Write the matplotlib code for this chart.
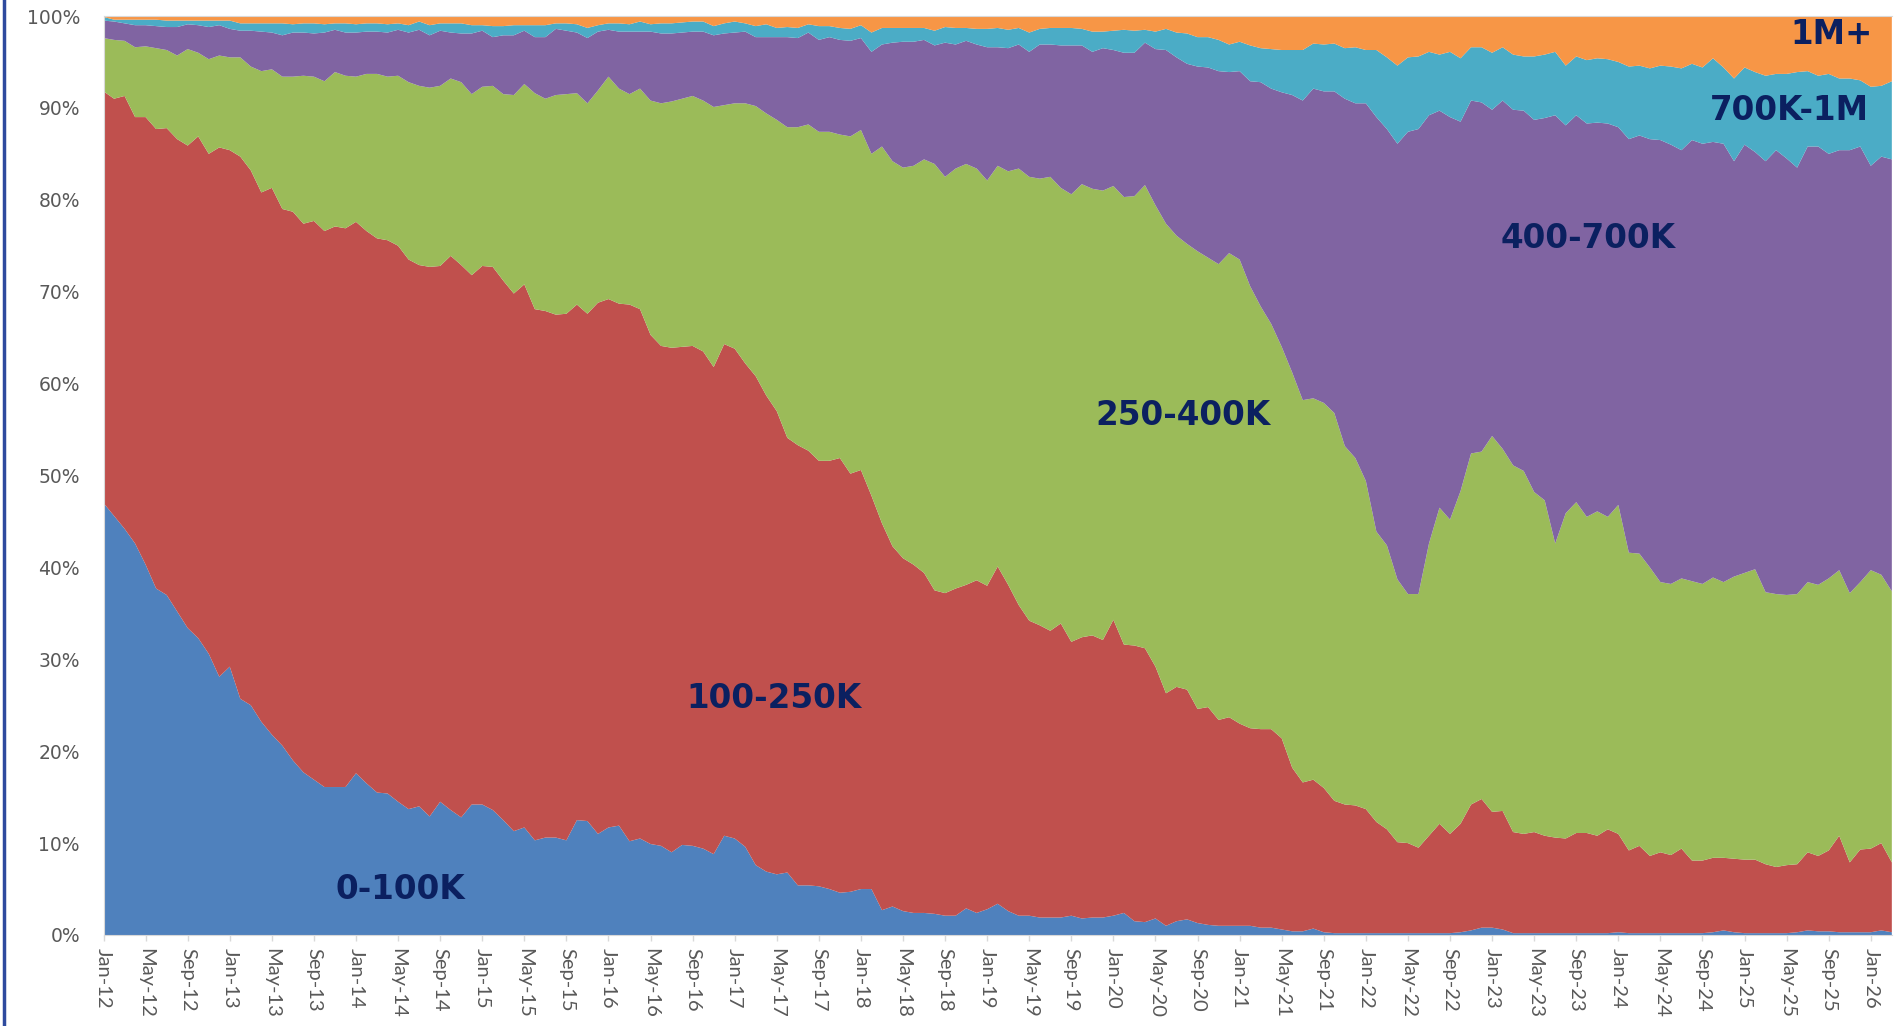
import numpy as np
import pandas as pd
import matplotlib
matplotlib.use("Agg")
import matplotlib.pyplot as plt
from matplotlib.lines import Line2D

# monthly categories, Jan-12 .. Mar-26
months = pd.date_range("2012-01-01", "2026-03-01", freq="MS")

# cumulative top of each band (% of total)
top_0_100k = [
    47.0, 45.6, 44.2, 42.6, 40.3, 37.7, 37.0, 35.2, 33.4, 32.3, 30.6, 28.1, 29.2, 25.7, 25.0, 23.2,
    21.8, 20.6, 19.0, 17.7, 16.9, 16.1, 16.1, 16.1, 17.6, 16.5, 15.5, 15.4, 14.5,
    13.7, 14.0, 12.9, 14.5, 13.6, 12.8, 14.2, 14.2, 13.6, 12.5, 11.3, 11.7, 10.3, 10.6, 10.6, 10.3,
    12.5, 12.4, 11.0, 11.7, 11.9, 10.2, 10.5, 9.9, 9.7, 9.0, 9.8, 9.7,
    9.4, 8.8, 10.8, 10.5, 9.6, 7.6, 6.9, 6.6, 6.8, 5.4, 5.4, 5.3, 5.0, 4.6, 4.7, 5.0,
    5.0, 2.7, 3.1, 2.6, 2.4, 2.4, 2.3, 2.1, 2.1, 2.9, 2.4, 2.8,
    3.4, 2.6, 2.1, 2.1, 1.9, 1.9, 1.9, 2.1, 1.8, 1.9, 1.9, 2.1, 2.4, 1.5, 1.4, 1.8,
    1.0, 1.5, 1.7, 1.3, 1.1, 1.0, 1.0, 1.0, 1.0, 0.8, 0.8, 0.6,
    0.4, 0.4, 0.7, 0.3, 0.2, 0.2, 0.2, 0.2, 0.2, 0.2, 0.2, 0.2, 0.2, 0.2, 0.2, 0.2,
    0.3, 0.5, 0.8, 0.8, 0.6, 0.2, 0.2, 0.2, 0.2, 0.2, 0.2, 0.2,
    0.2, 0.2, 0.2, 0.3, 0.2, 0.2, 0.2, 0.2, 0.2, 0.2, 0.2, 0.2, 0.3, 0.5, 0.3, 0.2,
    0.2, 0.2, 0.2, 0.2, 0.3, 0.5, 0.4, 0.4, 0.3, 0.3, 0.3, 0.3, 0.5, 0.3,
]
top_100_250k = [
    91.8, 91.0, 91.3, 89.0, 89.0, 87.7, 87.8, 86.6, 85.9, 86.9, 85.0, 85.7, 85.4, 84.7, 83.2, 80.8,
    81.3, 79.0, 78.7, 77.4, 77.7, 76.6, 77.1, 76.9, 77.6, 76.6, 75.8, 75.6, 75.0,
    73.5, 72.9, 72.7, 72.8, 73.9, 72.9, 71.8, 72.8, 72.7, 71.2, 69.8, 70.8, 68.1, 67.9, 67.5, 67.6,
    68.6, 67.6, 68.8, 69.2, 68.7, 68.6, 68.1, 65.3, 64.1, 63.9, 64.0, 64.1,
    63.5, 61.8, 64.3, 63.8, 62.2, 60.8, 58.7, 57.0, 54.1, 53.3, 52.7, 51.6, 51.6, 51.9, 50.2, 50.6,
    47.8, 44.8, 42.3, 41.0, 40.3, 39.4, 37.5, 37.2, 37.7, 38.1, 38.6, 38.0,
    40.1, 38.1, 35.9, 34.2, 33.7, 33.1, 33.9, 31.9, 32.4, 32.6, 32.1, 34.3, 31.6, 31.5, 31.2, 29.2,
    26.3, 27.0, 26.7, 24.6, 24.8, 23.4, 23.7, 23.0, 22.5, 22.4, 22.4, 21.4,
    18.2, 16.6, 16.9, 16.0, 14.6, 14.2, 14.1, 13.7, 12.3, 11.5, 10.1, 10.0, 9.5, 10.8, 12.1, 11.0,
    12.1, 14.2, 14.8, 13.4, 13.5, 11.2, 11.0, 11.2, 10.8, 10.6, 10.5, 11.1,
    11.1, 10.8, 11.5, 11.0, 9.2, 9.7, 8.6, 9.0, 8.7, 9.4, 8.1, 8.1, 8.4, 8.4, 8.3, 8.2,
    8.2, 7.7, 7.4, 7.6, 7.7, 9.0, 8.6, 9.2, 10.8, 7.9, 9.3, 9.4, 10.0, 7.9,
]
top_250_400k = [
    97.6, 97.4, 97.3, 96.6, 96.7, 96.5, 96.3, 95.7, 96.4, 96.0, 95.3, 95.7, 95.5, 95.5, 94.5, 94.0,
    94.2, 93.4, 93.4, 93.5, 93.4, 92.9, 93.9, 93.5, 93.4, 93.7, 93.7, 93.4, 93.5,
    92.8, 92.4, 92.2, 92.4, 93.2, 92.8, 91.5, 92.3, 92.4, 91.5, 91.4, 92.6, 91.6, 91.0, 91.4, 91.5,
    91.6, 90.5, 91.9, 93.4, 92.1, 91.5, 92.1, 90.8, 90.5, 90.7, 91.0, 91.3,
    90.8, 90.1, 90.3, 90.5, 90.5, 90.2, 89.4, 88.7, 87.9, 87.9, 88.2, 87.4, 87.4, 87.1, 86.9, 87.6,
    85.0, 85.8, 84.2, 83.5, 83.7, 84.4, 83.9, 82.5, 83.4, 83.9, 83.4, 82.1,
    83.7, 83.1, 83.4, 82.5, 82.3, 82.5, 81.3, 80.6, 81.7, 81.2, 81.0, 81.5, 80.3, 80.4, 81.6, 79.4,
    77.4, 76.1, 75.2, 74.4, 73.7, 73.0, 74.2, 73.5, 70.6, 68.4, 66.5, 64.0,
    61.2, 58.2, 58.4, 57.9, 56.8, 53.2, 51.9, 49.4, 43.9, 42.4, 38.7, 37.1, 37.1, 42.6, 46.5, 45.2,
    48.3, 52.4, 52.6, 54.3, 52.9, 51.1, 50.5, 48.2, 47.3, 42.6, 45.9, 47.1,
    45.5, 46.1, 45.5, 46.8, 41.6, 41.5, 40.0, 38.4, 38.2, 38.8, 38.5, 38.2, 38.9, 38.4, 39.0, 39.4,
    39.8, 37.3, 37.1, 37.0, 37.1, 38.4, 38.1, 38.8, 39.7, 37.2, 38.4, 39.7, 39.2, 37.4,
]
top_400_700k = [
    99.5, 99.4, 99.2, 99.0, 99.0, 98.9, 98.8, 98.8, 99.1, 99.0, 98.8, 99.0, 98.6, 98.4, 98.4, 98.3,
    98.2, 97.9, 98.2, 98.2, 98.1, 98.2, 98.5, 98.2, 98.2, 98.3, 98.3, 98.2, 98.5,
    98.2, 98.5, 97.9, 98.4, 98.2, 98.1, 98.1, 98.4, 97.7, 97.9, 97.9, 98.4, 97.7, 97.7, 98.6, 98.4,
    98.2, 97.6, 98.3, 98.5, 98.3, 98.3, 98.3, 98.3, 98.1, 98.1, 98.2, 98.3,
    98.3, 97.9, 98.1, 98.2, 98.3, 97.7, 97.7, 97.7, 97.7, 97.6, 98.2, 97.4, 97.7, 97.4, 97.3, 97.6,
    96.1, 96.9, 97.1, 97.2, 97.2, 97.4, 96.8, 97.1, 96.9, 97.3, 96.9, 96.6,
    96.6, 96.5, 96.9, 96.1, 96.9, 96.9, 96.8, 96.8, 96.8, 96.1, 96.5, 96.3, 96.0, 96.0, 97.1, 96.4,
    96.3, 95.5, 94.8, 94.5, 94.4, 94.0, 93.9, 94.0, 92.9, 92.8, 92.1, 91.7,
    91.4, 90.8, 92.1, 91.8, 91.8, 91.0, 90.5, 90.5, 89.0, 87.7, 86.1, 87.4, 87.7, 89.2, 89.7, 89.0,
    88.5, 90.8, 90.6, 89.8, 90.8, 89.8, 89.7, 88.7, 88.9, 89.2, 88.1, 89.2,
    88.3, 88.4, 88.3, 87.9, 86.6, 87.0, 86.6, 86.5, 86.0, 85.4, 86.5, 86.1, 86.3, 86.1, 84.2, 86.0,
    85.2, 84.2, 85.4, 84.5, 83.5, 85.8, 85.8, 85.0, 85.4, 85.4, 85.8, 83.7, 84.7, 84.4,
]
top_700k_1m = [
    99.9, 99.6, 99.6, 99.6, 99.6, 99.6, 99.5, 99.5, 99.5, 99.5, 99.5, 99.5, 99.5, 99.2, 99.2, 99.2,
    99.2, 99.2, 99.1, 99.2, 99.2, 99.1, 99.2, 99.2, 99.1, 99.2, 99.2, 99.1, 99.2,
    99.0, 99.4, 99.0, 99.2, 99.2, 99.2, 99.0, 99.0, 98.9, 98.9, 99.0, 99.0, 99.0, 99.0, 99.2, 99.2,
    99.1, 98.7, 99.0, 99.2, 99.2, 99.1, 99.4, 99.1, 99.2, 99.2, 99.3, 99.4,
    99.4, 98.9, 99.2, 99.4, 99.2, 98.9, 99.1, 98.7, 98.8, 98.7, 99.1, 98.9, 98.9, 98.7, 98.6, 99.0,
    98.2, 98.7, 98.7, 98.7, 98.7, 98.7, 98.4, 98.8, 98.7, 98.7, 98.6, 98.6,
    98.7, 98.5, 98.7, 98.2, 98.6, 98.7, 98.7, 98.7, 98.6, 98.3, 98.3, 98.4, 98.5, 98.4, 98.5, 98.3,
    98.6, 98.2, 98.1, 97.7, 97.7, 97.4, 96.9, 97.2, 96.8, 96.5, 96.4, 96.3,
    96.3, 96.3, 97.0, 96.9, 97.0, 96.5, 96.6, 96.3, 96.3, 95.5, 94.6, 95.5, 95.6, 96.1, 95.8, 96.1,
    95.4, 96.6, 96.6, 96.0, 96.6, 95.8, 95.6, 95.6, 95.8, 96.1, 94.6, 95.6,
    95.2, 95.4, 95.3, 95.0, 94.5, 94.6, 94.3, 94.6, 94.5, 94.3, 94.8, 94.4, 95.4, 94.4, 93.2, 94.4,
    93.9, 93.5, 93.7, 93.7, 93.9, 94.0, 93.5, 93.7, 93.2, 93.2, 93.0, 92.3, 92.4, 92.9,
]

bands = ["0-100K", "100-250K", "250-400K", "400-700K", "700K-1M", "1M+"]
colors = ["#4F81BD", "#C0504D", "#9BBB59", "#8064A2", "#4BACC6", "#F79646"]

tops = np.array([top_0_100k, top_100_250k, top_250_400k, top_400_700k, top_700k_1m])
shares = np.diff(np.vstack([np.zeros(len(months)), tops, np.full(len(months), 100.0)]), axis=0)

x = np.arange(len(months))

fig = plt.figure(figsize=(19, 10.26), dpi=100)
ax = fig.add_axes([0.0545, 0.0887, 0.9412, 0.8957])

ax.stackplot(x, shares, colors=colors, linewidth=0)

ax.set_xlim(0, len(months) - 1)
ax.set_ylim(0, 100)

ax.set_yticks(range(0, 101, 10))
ax.set_yticklabels([f"{v}%" for v in range(0, 101, 10)])
ax.set_xticks(x[::4])
ax.set_xticklabels([d.strftime("%b-%y") for d in months[::4]], rotation=-90)

ax.tick_params(axis="y", length=0, pad=17, labelsize=13.5, labelcolor="#595959")
ax.tick_params(axis="x", length=4.5, width=1, color="#D9D9D9", pad=5,
               labelcolor="#595959")
# narrow face for the rotated month labels
for lab in ax.get_xticklabels():
    lab.set_family(["Liberation Sans Narrow", "Lato"])
    lab.set_fontsize(14.5)
    lab.set_va("top")
    lab.set_ha("center")

for side in ["left", "bottom", "top"]:
    ax.spines[side].set_color("#D9D9D9")
ax.spines["right"].set_visible(False)

# band labels written on the areas
band_labels = [
    ("0-100K", 28.2, 5.0),
    ("100-250K", 63.7, 25.7),
    ("250-400K", 102.6, 56.5),
    ("400-700K", 141.1, 75.8),
    ("700K-1M", 160.3, 89.7),
    ("1M+", 164.3, 98.0),
]
for txt, bx, by in band_labels:
    ax.text(bx, by, txt, ha="center", va="center", fontsize=23.5,
            fontweight="bold", color="#0B2060")

# blue frame line on the left edge of the slide
fig.add_artist(Line2D([0.0022, 0.0022], [0, 1], transform=fig.transFigure,
                      color="#2E4A9E", linewidth=2.5))

fig.savefig("out.png", dpi=100)
